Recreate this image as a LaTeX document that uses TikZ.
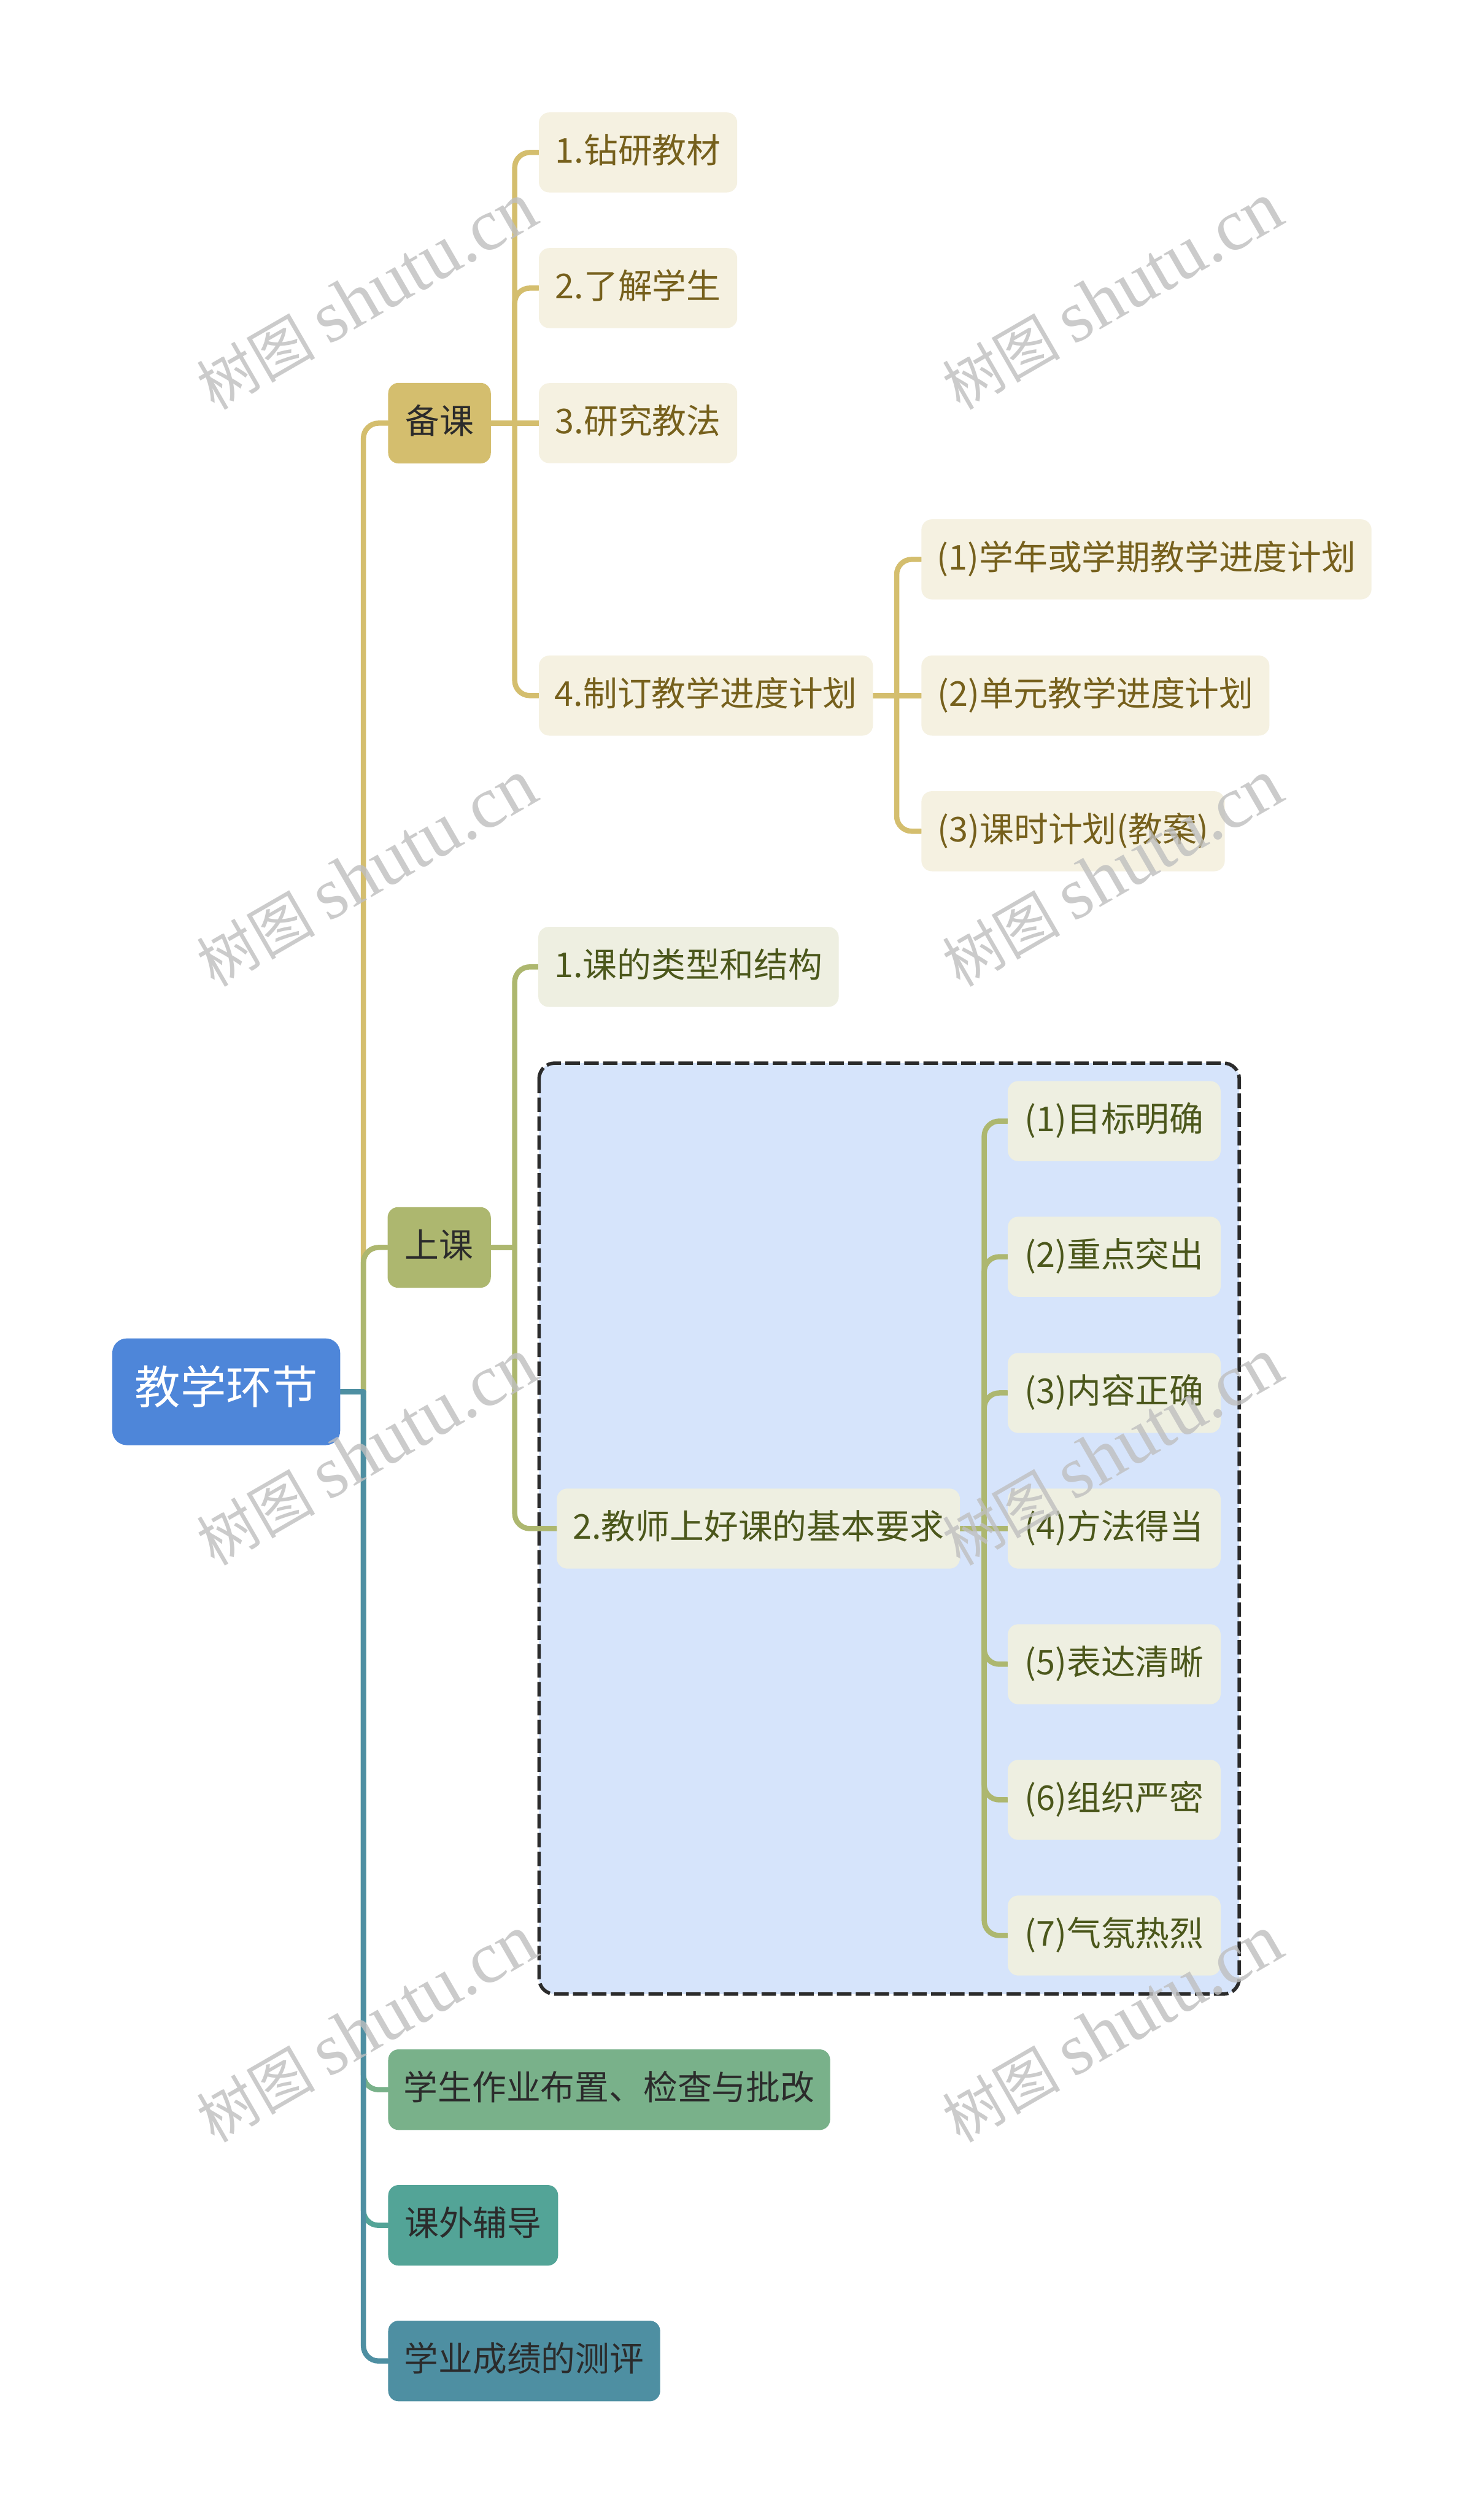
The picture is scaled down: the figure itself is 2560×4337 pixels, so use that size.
\documentclass[tikz,border=0pt]{standalone}
\usepackage{fontspec}
\setmainfont{Noto Sans CJK SC}
\newfontfamily\wmserif{Liberation Serif}
\newfontfamily\wmcjk{Noto Sans CJK SC}
\pgfdeclarelayer{Lbase}
\pgfdeclarelayer{Lzero}
\pgfdeclarelayer{Lone}
\pgfdeclarelayer{Ltop}
\pgfsetlayers{Lbase,Lzero,Lone,main,Ltop}
\definecolor{cRoot}{HTML}{4E86D9}
\definecolor{cBei}{HTML}{D4BE6E}
\definecolor{cShang}{HTML}{ADB76F}
\definecolor{cZy}{HTML}{79B18A}
\definecolor{cKw}{HTML}{53A497}
\definecolor{cCj}{HTML}{4E8FA2}
\definecolor{fG}{HTML}{F5F1E1}
\definecolor{fO}{HTML}{EEEFE1}
\definecolor{tG}{HTML}{76601C}
\definecolor{tO}{HTML}{4B571B}
\definecolor{tD}{HTML}{2B2B2B}
\definecolor{regionfill}{HTML}{D6E4FB}
\definecolor{regionline}{HTML}{2B2B2B}
\newcommand\fsnorm{\fontsize{16.8pt}{20pt}\selectfont}
\newcommand\fsroot{\fontsize{22.4pt}{26pt}\selectfont}
\tikzset{
  box/.style={rounded corners=0.18cm, inner sep=0pt, text height=1.04em, text depth=0em,
    minimum height=1.38cm, anchor=west, align=center, font=\fsnorm},
  rootbox/.style={box, fill=cRoot, text=white, font=\fsroot, minimum height=1.84cm,
    rounded corners=0.25cm, text height=1.2em},
  lone/.style={box, text=tD, minimum height=1.39cm, rounded corners=0.18cm},
  ltwog/.style={box, fill=fG, text=tG},
  ltwoo/.style={box, fill=fO, text=tO},
  conn/.style={line width=0.09cm, rounded corners=0.26cm, line cap=round},
  region/.style={fill=regionfill, draw=regionline, line width=0.06cm,
    dash pattern=on 0.25cm off 0.075cm, rounded corners=0.27cm},
  wmark/.style={text=black!25, opacity=0.8, rotate=30, inner sep=0pt}
}
\begin{document}
\begin{tikzpicture}[x=0.01cm, y=-0.01cm]
\useasboundingbox (0,0) rectangle (2560,4337);
\begin{pgfonlayer}{Lbase}
\fill[white] (0,0) rectangle (2560,4337);
\end{pgfonlayer}

% root
\node[rootbox, minimum width=3.93cm] (root) at (193,2401) {教学环节};

% 备课 branch
\node[lone, fill=cBei, minimum width=1.77cm] (bk) at (669,730) {备课};
\node[ltwog, minimum width=3.42cm] (b1) at (929,263) {1.钻研教材};
\node[ltwog, minimum width=3.42cm] (b2) at (929,497) {2.了解学生};
\node[ltwog, minimum width=3.42cm] (b3) at (929,730) {3.研究教法};
\node[ltwog, minimum width=5.76cm] (b4) at (929,1200) {4.制订教学进度计划};
\node[ltwog, minimum width=7.76cm] (b41) at (1589,965) {(1)学年或学期教学进度计划};
\node[ltwog, minimum width=6.00cm] (b42) at (1589,1200) {(2)单元教学进度计划};
\node[ltwog, minimum width=5.23cm] (b43) at (1589,1434) {(3)课时计划(教案)};

% 上课 branch
\node[lone, fill=cShang, minimum width=1.78cm] (sk) at (668,2152) {上课};
\node[ltwoo, minimum width=5.18cm] (s1) at (928,1668) {1.课的类型和结构};
\node[ltwoo, minimum width=6.95cm] (s2) at (960,2637) {2.教师上好课的基本要求};
\node[ltwoo, minimum width=3.67cm] (r1) at (1738,1934) {(1)目标明确};
\node[ltwoo, minimum width=3.67cm] (r2) at (1738,2168) {(2)重点突出};
\node[ltwoo, minimum width=3.67cm] (r3) at (1738,2403) {(3)内容正确};
\node[ltwoo, minimum width=3.67cm] (r4) at (1738,2637) {(4)方法得当};
\node[ltwoo, minimum width=3.67cm] (r5) at (1738,2871) {(5)表达清晰};
\node[ltwoo, minimum width=3.67cm] (r6) at (1738,3105) {(6)组织严密};
\node[ltwoo, minimum width=3.67cm] (r7) at (1738,3339) {(7)气氛热烈};

% lower level-1
\node[lone, fill=cZy, minimum width=7.62cm] (zy) at (669,3605) {学生作业布置、检查与批改};
\node[lone, fill=cKw, minimum width=2.93cm] (kw) at (669,3839) {课外辅导};
\node[lone, fill=cCj, minimum width=4.69cm] (cj) at (669,4073) {学业成绩的测评};

% junction coordinates
\coordinate (J0) at (627,2401);
\coordinate (J1) at (888,730);
\coordinate (J2) at (1547,1200);
\coordinate (J3) at (888,2152);
\coordinate (J4) at (1698,2637);

\begin{pgfonlayer}{Lzero}
\draw[region] (930,1834) rectangle (2138,3440);
\end{pgfonlayer}

\begin{pgfonlayer}{Lone}
% root to level 1
\draw[conn, cBei] (J0) |- (bk.west);
\draw[conn, cShang] (J0) |- (sk.west);
\draw[conn, cZy] (J0) |- (zy.west);
\draw[conn, cKw] (J0) |- (kw.west);
\draw[conn, cCj] (J0) |- (cj.west);
\draw[conn, cCj] (root.east) -- (J0);
% 备课
\draw[conn, cBei] (bk.east) -- (J1);
\draw[conn, cBei] (J1) |- (b1.west);
\draw[conn, cBei] (J1) |- (b2.west);
\draw[conn, cBei] (J1) -- (b3.west);
\draw[conn, cBei] (J1) |- (b4.west);
\draw[conn, cBei] (b4.east) -- (J2);
\draw[conn, cBei] (J2) |- (b41.west);
\draw[conn, cBei] (J2) -- (b42.west);
\draw[conn, cBei] (J2) |- (b43.west);
% 上课
\draw[conn, cShang] (sk.east) -- (J3);
\draw[conn, cShang] (J3) |- (s1.west);
\draw[conn, cShang] (J3) |- (s2.west);
\draw[conn, cShang] (s2.east) -- (J4);
\draw[conn, cShang] (J4) |- (r1.west);
\draw[conn, cShang] (J4) |- (r2.west);
\draw[conn, cShang] (J4) |- (r3.west);
\draw[conn, cShang] (J4) -- (r4.west);
\draw[conn, cShang] (J4) |- (r5.west);
\draw[conn, cShang] (J4) |- (r6.west);
\draw[conn, cShang] (J4) |- (r7.west);
\end{pgfonlayer}

\begin{pgfonlayer}{Ltop}
\foreach \wx/\wy/\wn in {633/511/wa, 1919/511/wb, 633/1507/wc, 1919/1507/wd,
                         633/2505/we, 1919/2505/wf, 633/3500/wg, 1919/3500/wh}{
  \node[wmark] (\wn) at (\wx,\wy) {\wmcjk\fontsize{29pt}{32pt}\selectfont 树图\ \wmserif\fontsize{36pt}{38pt}\selectfont shutu.cn};
}
\end{pgfonlayer}
\end{tikzpicture}
\end{document}
